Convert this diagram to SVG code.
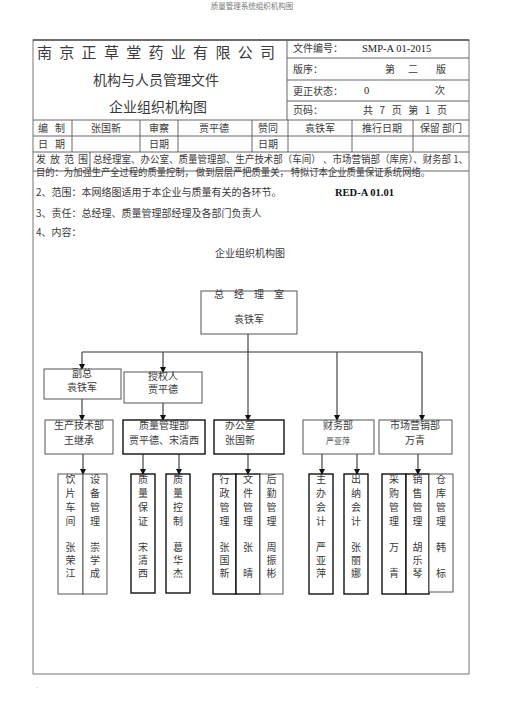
<svg xmlns="http://www.w3.org/2000/svg" width="505" height="714" viewBox="0 0 505 714">
<style>
text{font-family:"Noto Sans CJK SC","Liberation Serif",serif;fill:#3a3a3a;}
.t10{font-size:10px;}
.hd{font-size:14px;}
.ln{stroke:#666;stroke-width:1;fill:none;}
.dk{stroke:#222;stroke-width:1.2;fill:none;}
.bx{stroke:#555;stroke-width:1;fill:#fff;}
.bxk{stroke:#111;stroke-width:1.4;fill:#fff;}
.c{text-anchor:middle;}
.v{font-size:10px;text-anchor:middle;}
.ar{stroke:#444;stroke-width:1.2;fill:none;marker-end:url(#ah);}
</style>
<defs>
<marker id="ah" markerWidth="6" markerHeight="6" refX="5" refY="3" orient="auto" markerUnits="userSpaceOnUse">
<path d="M0,0 L6,3 L0,6 Z" fill="#111"/>
</marker>
</defs>
<rect width="505" height="714" fill="#fff"/>
<text x="252" y="9" class="c" style="font-size:7.5px;fill:#777">质量管理系统组织机构图</text>
<text x="258" y="35" style="font-size:6px;fill:#999">.</text>
<text x="36" y="688" style="font-size:6px;fill:#999">.</text>

<g id="frame">
<rect x="33" y="40" width="436" height="634" class="ln" style="stroke:#777"/>
<line x1="33" y1="40" x2="469" y2="40" class="dk"/>
<line x1="287" y1="40" x2="287" y2="120" class="ln"/>
<line x1="287" y1="58" x2="469" y2="58" class="ln"/>
<line x1="287" y1="80" x2="469" y2="80" class="ln"/>
<line x1="287" y1="101" x2="469" y2="101" class="ln"/>
<line x1="33" y1="120" x2="469" y2="120" class="ln"/>
<line x1="33" y1="136" x2="469" y2="136" class="ln"/>
<line x1="33" y1="152" x2="469" y2="152" class="ln"/>
<line x1="33" y1="171" x2="469" y2="171" class="ln"/>
<line x1="72" y1="120" x2="72" y2="152" class="ln"/>
<line x1="140" y1="120" x2="140" y2="152" class="ln"/>
<line x1="178" y1="120" x2="178" y2="152" class="ln"/>
<line x1="252" y1="120" x2="252" y2="152" class="ln"/>
<line x1="288" y1="120" x2="288" y2="152" class="ln"/>
<line x1="352" y1="120" x2="352" y2="152" class="ln"/>
<line x1="413" y1="120" x2="413" y2="152" class="ln"/>
<line x1="90" y1="152" x2="90" y2="171" class="ln"/>
</g>

<g id="header-text">
<text x="37" y="58" style="font-size:15px" textLength="238" lengthAdjust="spacing">南京正草堂药业有限公司</text>
<text x="156" y="85" class="hd c">机构与人员管理文件</text>
<text x="158" y="112" class="hd c">企业组织机构图</text>
<text x="293" y="52" class="t10">文件编号：</text>
<text x="362" y="52" style="font-family:'Liberation Serif',serif;font-size:10.5px;fill:#222">SMP-A 01-2015</text>
<text x="293" y="73" class="t10">版序：</text>
<text x="385" y="73" class="t10">第</text>
<text x="408" y="73" class="t10">二</text>
<text x="436" y="73" class="t10">版</text>
<text x="293" y="95" class="t10">更正状态：</text>
<text x="364" y="94" style="font-family:'Liberation Serif',serif;font-size:10.5px;fill:#222">0</text>
<text x="435" y="94" class="t10">次</text>
<text x="293" y="114" class="t10">页码：</text>
<text x="363" y="114" class="t10" textLength="84" lengthAdjust="spacing">共 7 页 第 1 页</text>
<text x="38" y="132" class="t10" textLength="27" lengthAdjust="spacing">编制</text>
<text x="106" y="132" class="t10 c">张国新</text>
<text x="159" y="132" class="t10 c">审察</text>
<text x="214" y="132" class="t10 c">贾平德</text>
<text x="268" y="132" class="t10 c">赞同</text>
<text x="320" y="132" class="t10 c">袁铁军</text>
<text x="382" y="132" class="t10 c">推行日期</text>
<text x="441" y="132" class="t10 c">保留 部门</text>
<text x="38" y="148" class="t10" textLength="27" lengthAdjust="spacing">日期</text>
<text x="159" y="148" class="t10 c">日期</text>
<text x="268" y="148" class="t10 c">日期</text>
<text x="36" y="163" class="t10" textLength="52" lengthAdjust="spacing">发放范围</text>
<text x="93" y="163" class="t10" textLength="375" lengthAdjust="spacingAndGlyphs">总经理室、办公室、质量管理部、生产技术部（车间） 、市场营销部（库房）、财务部 1、</text>
<text x="36" y="176" class="t10" textLength="394" lengthAdjust="spacingAndGlyphs">目的：为加强生产全过程的质量控制， 做到层层严把质量关， 特拟订本企业质量保证系统网络。</text>
<text x="36" y="196" class="t10">2、范围：本网络图适用于本企业与质量有关的各环节。</text>
<text x="335" y="196" style="font-family:'Liberation Serif',serif;font-size:10.5px;font-weight:bold;fill:#111">RED-A 01.01</text>
<text x="36" y="217" class="t10">3、责任：总经理、质量管理部经理及各部门负责人</text>
<text x="36" y="236" class="t10">4、内容：</text>
<text x="250" y="257" class="t10 c">企业组织机构图</text>
</g>

<g id="connectors">
<line x1="248" y1="334" x2="248" y2="352" class="ln" style="stroke:#444;stroke-width:1.2"/>
<line x1="82" y1="352" x2="422" y2="352" class="ln" style="stroke:#333;stroke-width:1.2"/>
<line x1="82" y1="352" x2="82" y2="369" class="ar"/>
<line x1="163" y1="352" x2="163" y2="372" class="ar"/>
<line x1="248" y1="352" x2="248" y2="420" class="ar"/>
<line x1="337" y1="352" x2="337" y2="420" class="ar"/>
<line x1="422" y1="352" x2="422" y2="420" class="ar"/>
<line x1="82" y1="399" x2="82" y2="420" class="ar"/>
<line x1="163" y1="403" x2="163" y2="420" class="ar"/>
<line x1="83" y1="454" x2="83" y2="474" class="ar"/>
<line x1="143" y1="454" x2="143" y2="474" class="ar"/>
<line x1="179" y1="454" x2="179" y2="474" class="ar"/>
<line x1="248" y1="454" x2="248" y2="474" class="ar"/>
<line x1="322" y1="454" x2="322" y2="474" class="ar"/>
<line x1="357" y1="454" x2="357" y2="474" class="ar"/>
<line x1="418" y1="454" x2="418" y2="474" class="ar"/>
</g>

<g id="n-gm"><rect x="201" y="291" width="96" height="43" class="bx"/>
<text x="249" y="298" class="t10 c" textLength="70" lengthAdjust="spacing">总经理室</text>
<text x="249" y="323" class="t10 c">袁铁军</text></g>

<g id="n-vp"><rect x="44" y="369" width="77" height="30" class="bx"/>
<text x="82" y="377" class="t10 c">副总</text>
<text x="82" y="391" class="t10 c">袁铁军</text></g>

<g id="n-auth"><rect x="124" y="372" width="78" height="31" class="bx"/>
<text x="163" y="380" class="t10 c">授权人</text>
<text x="163" y="393" class="t10 c">贾平德</text></g>

<g id="n-prod"><rect x="45" y="420" width="68" height="34" class="bx"/>
<text x="79" y="429" class="t10 c">生产技术部</text>
<text x="79" y="444" class="t10 c">王继承</text></g>

<g id="n-qm"><rect x="123" y="420" width="82" height="34" class="bxk"/>
<text x="164" y="429" class="t10 c">质量管理部</text>
<text x="164" y="444" class="t10 c">贾平德、宋清西</text></g>

<g id="n-office"><rect x="214" y="420" width="70" height="34" class="bxk"/>
<text x="240" y="429" class="t10 c">办公室</text>
<text x="240" y="444" class="t10 c">张国新</text></g>

<g id="n-fin"><rect x="303" y="420" width="71" height="34" class="bx"/>
<text x="338" y="429" class="t10 c">财务部</text>
<text x="338" y="444" class="c" style="font-size:8px">严亚萍</text></g>

<g id="n-mkt"><rect x="379" y="420" width="73" height="34" class="bx"/>
<text x="415" y="429" class="t10 c">市场营销部</text>
<text x="415" y="444" class="t10 c">万青</text></g>

<g id="n-s1"><rect x="58" y="474" width="25" height="120" class="bx"/>
<text class="v"><tspan x="70.5" y="483">饮</tspan><tspan x="70.5" y="497">片</tspan><tspan x="70.5" y="511">车</tspan><tspan x="70.5" y="525">间</tspan><tspan x="70.5" y="551">张</tspan><tspan x="70.5" y="564">荣</tspan><tspan x="70.5" y="577">江</tspan></text></g>
<g id="n-s2"><rect x="83" y="474" width="24" height="120" class="bx"/>
<text class="v"><tspan x="95" y="483">设</tspan><tspan x="95" y="497">备</tspan><tspan x="95" y="511">管</tspan><tspan x="95" y="525">理</tspan><tspan x="95" y="551">崇</tspan><tspan x="95" y="564">学</tspan><tspan x="95" y="577">成</tspan></text></g>
<g id="n-s3"><rect x="131" y="474" width="24" height="119" class="bxk"/>
<text class="v"><tspan x="143" y="483">质</tspan><tspan x="143" y="497">量</tspan><tspan x="143" y="511">保</tspan><tspan x="143" y="525">证</tspan><tspan x="143" y="551">宋</tspan><tspan x="143" y="564">清</tspan><tspan x="143" y="577">西</tspan></text></g>
<g id="n-s4"><rect x="166" y="474" width="24" height="119" class="bxk"/>
<text class="v"><tspan x="178" y="483">质</tspan><tspan x="178" y="497">量</tspan><tspan x="178" y="511">控</tspan><tspan x="178" y="525">制</tspan><tspan x="178" y="551">葛</tspan><tspan x="178" y="564">华</tspan><tspan x="178" y="577">杰</tspan></text></g>
<g id="n-s5"><rect x="213" y="474" width="23" height="120" class="bxk"/>
<text class="v"><tspan x="224.5" y="483">行</tspan><tspan x="224.5" y="497">政</tspan><tspan x="224.5" y="511">管</tspan><tspan x="224.5" y="525">理</tspan><tspan x="224.5" y="551">张</tspan><tspan x="224.5" y="564">国</tspan><tspan x="224.5" y="577">新</tspan></text></g>
<g id="n-s6"><rect x="236" y="474" width="24" height="120" class="bxk"/>
<text class="v"><tspan x="248" y="483">文</tspan><tspan x="248" y="497">件</tspan><tspan x="248" y="511">管</tspan><tspan x="248" y="525">理</tspan><tspan x="248" y="551">张</tspan><tspan x="248" y="577">晴</tspan></text></g>
<g id="n-s7"><rect x="260" y="474" width="23" height="120" class="bx"/>
<text class="v"><tspan x="271.5" y="483">后</tspan><tspan x="271.5" y="497">勤</tspan><tspan x="271.5" y="511">管</tspan><tspan x="271.5" y="525">理</tspan><tspan x="271.5" y="551">周</tspan><tspan x="271.5" y="564">振</tspan><tspan x="271.5" y="577">彬</tspan></text></g>
<g id="n-s8"><rect x="309" y="474" width="24" height="120" class="bxk"/>
<text class="v"><tspan x="321" y="483">主</tspan><tspan x="321" y="497">办</tspan><tspan x="321" y="511">会</tspan><tspan x="321" y="525">计</tspan><tspan x="321" y="551">严</tspan><tspan x="321" y="564">亚</tspan><tspan x="321" y="577">萍</tspan></text></g>
<g id="n-s9"><rect x="344" y="474" width="24" height="120" class="bxk"/>
<text class="v"><tspan x="356" y="483">出</tspan><tspan x="356" y="497">纳</tspan><tspan x="356" y="511">会</tspan><tspan x="356" y="525">计</tspan><tspan x="356" y="551">张</tspan><tspan x="356" y="564">丽</tspan><tspan x="356" y="577">娜</tspan></text></g>
<g id="n-s10"><rect x="382" y="474" width="24" height="120" class="bxk"/>
<text class="v"><tspan x="394" y="483">采</tspan><tspan x="394" y="497">购</tspan><tspan x="394" y="511">管</tspan><tspan x="394" y="525">理</tspan><tspan x="394" y="551">万</tspan><tspan x="394" y="577">青</tspan></text></g>
<g id="n-s11"><rect x="406" y="474" width="23" height="120" class="bxk"/>
<text class="v"><tspan x="417.5" y="483">销</tspan><tspan x="417.5" y="497">售</tspan><tspan x="417.5" y="511">管</tspan><tspan x="417.5" y="525">理</tspan><tspan x="417.5" y="551">胡</tspan><tspan x="417.5" y="564">乐</tspan><tspan x="417.5" y="577">琴</tspan></text></g>
<g id="n-s12"><rect x="429" y="474" width="24" height="118" class="bx"/>
<text class="v"><tspan x="441" y="483">仓</tspan><tspan x="441" y="497">库</tspan><tspan x="441" y="511">管</tspan><tspan x="441" y="525">理</tspan><tspan x="441" y="551">韩</tspan><tspan x="441" y="577">标</tspan></text></g>
</svg>
